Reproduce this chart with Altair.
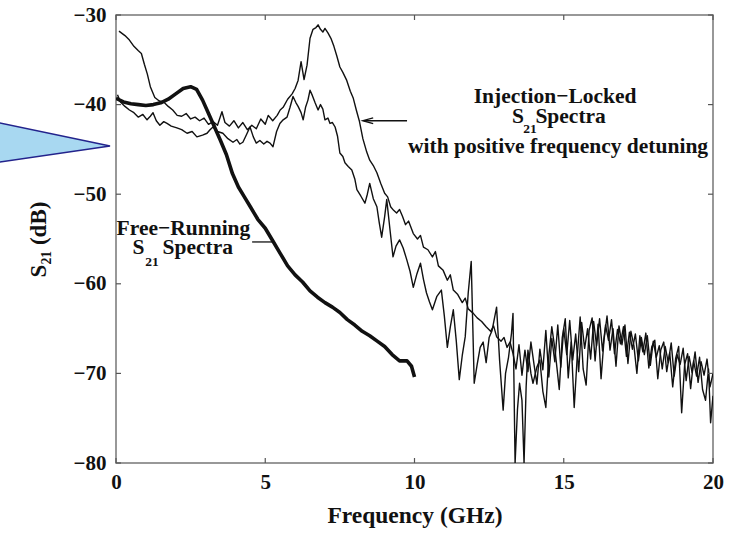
import altair as alt
import pandas as pd

FONT = "Liberation Serif"

# ---------------- data ----------------
x_ticks = [0, 5, 10, 15, 20]
y_ticks = [-80, -70, -60, -50, -40, -30]

free_f = [0.0, 0.25, 0.5, 0.75, 1.0, 1.25, 1.5, 1.75, 2.0, 2.25, 2.5, 2.7, 2.9, 3.1, 3.3, 3.5,
          3.7, 3.9, 4.1, 4.3, 4.5, 4.75, 5.0, 5.25, 5.5, 5.75, 6.0, 6.25, 6.5, 6.75, 7.0,
          7.25, 7.5, 7.75, 8.0, 8.25, 8.5, 8.75, 9.0, 9.25, 9.5, 9.75, 9.9, 10.0]
free_s = [-39.3, -39.7, -39.9, -40.0, -40.1, -40.0, -39.8, -39.4, -38.8, -38.2, -38.0, -38.3,
          -39.5, -41.0, -42.5, -44.0, -45.6, -47.7, -49.2, -50.3, -51.4, -52.8, -53.8, -55.2,
          -56.6, -58.0, -59.0, -59.8, -60.8, -61.5, -62.1, -62.6, -63.2, -64.0, -64.6, -65.3,
          -65.8, -66.4, -67.0, -67.9, -68.6, -68.6, -69.2, -70.4]

lockA_f = [0.10, 0.30, 0.45, 0.60, 0.75, 0.85, 0.95, 1.05, 1.15, 1.30, 1.45, 1.60, 1.75, 1.90,
           2.05, 2.20, 2.35, 2.50, 2.65, 2.80, 2.95, 3.10, 3.25, 3.40, 3.55, 3.65, 3.80, 3.95,
           4.10, 4.25, 4.40, 4.55, 4.70, 4.85, 5.00, 5.10, 5.25, 5.40, 5.50, 5.60, 5.75, 5.90,
           6.00, 6.10, 6.20, 6.30, 6.40, 6.50, 6.60, 6.70, 6.77, 6.85, 6.93, 7.00, 7.10, 7.20,
           7.30, 7.40, 7.50, 7.60, 7.73, 7.85, 7.95, 8.05, 8.15, 8.27, 8.40, 8.50, 8.62, 8.74,
           8.87, 9.00, 9.10, 9.20, 9.30, 9.40, 9.50, 9.60, 9.70, 9.80, 9.96, 10.10, 10.20, 10.30,
           10.45, 10.60, 10.70, 10.80, 10.96, 11.10, 11.20, 11.30, 11.45, 11.60, 11.70, 11.80,
           11.97, 12.10, 12.25, 12.40, 12.55, 12.65, 12.75, 12.90, 13.00, 13.10, 13.20, 13.30,
           13.4, 13.5, 13.6, 13.7, 13.8, 13.9, 14.0, 14.1, 14.2, 14.3, 14.4, 14.5, 14.6, 14.7,
           14.8, 14.9, 15.0, 15.1, 15.2, 15.3, 15.4, 15.5, 15.6, 15.7, 15.8, 15.9, 16.0, 16.1,
           16.2, 16.3, 16.4, 16.5, 16.6, 16.7, 16.8, 16.9, 17.0, 17.1, 17.2, 17.3, 17.4, 17.5,
           17.6, 17.7, 17.8, 17.9, 18.0, 18.1, 18.2, 18.3, 18.4, 18.5, 18.6, 18.7, 18.8, 18.9,
           19.0, 19.1, 19.2, 19.3, 19.4, 19.5, 19.6, 19.7, 19.8, 19.9, 20.0]
lockA_s = [-31.8, -32.3, -32.8, -33.5, -34.0, -34.3, -35.5, -36.6, -38.0, -39.2, -39.6, -39.7,
           -40.2, -40.6, -41.2, -41.3, -41.0, -41.6, -41.4, -41.8, -41.5, -42.2, -41.9, -42.3,
           -40.8, -42.0, -42.4, -41.8, -42.6, -42.0, -42.8, -42.3, -42.7, -41.6, -42.2, -41.2,
           -41.8, -41.2, -40.6, -40.3, -39.4, -38.8, -38.2, -37.3, -35.2, -37.2, -35.6, -32.6,
           -31.6, -31.4, -31.1, -31.6, -31.9, -31.5, -32.0, -32.6, -33.5, -34.6, -35.8, -36.4,
           -37.3, -38.5, -39.3, -40.6, -41.8, -43.8, -45.3, -46.2, -46.8, -47.6, -48.8, -49.9,
           -50.3, -51.4, -51.8, -52.1, -51.7, -52.5, -53.4, -53.0, -54.4, -55.0, -54.6, -55.9,
           -56.2, -57.0, -56.4, -58.0, -58.5, -59.6, -59.0, -60.7, -61.2, -62.1, -61.6, -62.8,
           -63.3, -63.8, -64.2, -64.8, -65.3, -64.7, -65.9, -66.4, -66.0, -67.1, -66.5, -67.8,
           -69.5, -66.8, -70.2, -67.4, -69.8, -66.5, -68.9, -71.2, -67.3, -69.6, -65.2, -70.4,
           -66.1, -68.7, -64.6, -69.3, -65.0, -67.9, -64.1, -68.5, -65.6, -69.8, -64.3, -67.2,
           -65.0, -68.4, -64.2, -66.9, -63.9, -67.5, -64.6, -66.3, -64.0, -67.8, -65.1, -66.7,
           -64.8, -68.1, -65.4, -67.3, -65.6, -68.6, -66.0, -67.9, -65.8, -69.1, -66.4, -68.2,
           -66.9, -69.5, -67.0, -68.8, -66.6, -70.3, -67.9, -69.0, -67.2, -70.8, -68.1, -69.9,
           -67.6, -71.0, -68.7, -70.2, -68.4, -71.5, -70.0]

lockB_f = [0.05, 0.15, 0.30, 0.45, 0.60, 0.75, 0.90, 1.04, 1.15, 1.24, 1.35, 1.47, 1.60, 1.71,
           1.85, 2.04, 2.20, 2.38, 2.55, 2.71, 2.90, 3.05, 3.15, 3.25, 3.40, 3.58, 3.75, 3.92,
           4.05, 4.15, 4.25, 4.35, 4.49, 4.60, 4.70, 4.82, 4.95, 5.06, 5.16, 5.26, 5.38, 5.49,
           5.60, 5.73, 5.83, 5.93, 6.03, 6.10, 6.20, 6.27, 6.35, 6.43, 6.50, 6.58, 6.67, 6.77,
           6.85, 6.93, 7.00, 7.10, 7.17, 7.25, 7.34, 7.42, 7.50, 7.60, 7.67, 7.78, 7.90, 8.00,
           8.07, 8.20, 8.34, 8.42, 8.50, 8.62, 8.74, 8.82, 8.90, 9.00, 9.07, 9.18, 9.28, 9.38,
           9.50, 9.62, 9.74, 9.85, 9.96, 10.08, 10.20, 10.30, 10.40, 10.50, 10.60, 10.75, 10.90,
           11.00, 11.10, 11.20, 11.30, 11.40, 11.50, 11.60, 11.70, 11.80, 11.90, 12.00, 12.10,
           12.20, 12.30, 12.40, 12.50, 12.60, 12.75, 12.85, 12.97, 13.05, 13.15, 13.25, 13.30,
           13.37, 13.45, 13.52, 13.60, 13.67, 13.74, 13.80, 13.90, 13.97, 14.10, 14.20, 14.30,
           14.40, 14.50, 14.60, 14.70, 14.77, 14.85, 14.95, 15.05, 15.15, 15.25, 15.35, 15.45,
           15.55, 15.65, 15.75, 15.85, 15.95, 16.05, 16.15, 16.25, 16.35, 16.45, 16.55, 16.65,
           16.75, 16.85, 16.95, 17.05, 17.15, 17.25, 17.35, 17.45, 17.55, 17.65, 17.75, 17.85,
           17.95, 18.05, 18.15, 18.25, 18.35, 18.45, 18.55, 18.65, 18.75, 18.85, 18.95, 19.05,
           19.15, 19.25, 19.35, 19.45, 19.55, 19.65, 19.75, 19.85, 19.92, 20.00]
lockB_s = [-38.9, -39.7, -40.2, -40.6, -40.9, -41.4, -41.1, -41.7, -41.3, -40.9, -41.8, -42.3,
           -41.9, -42.1, -42.4, -42.6, -42.8, -43.2, -43.0, -43.6, -43.4, -43.2, -42.8, -42.5,
           -43.0, -43.2, -43.8, -44.2, -43.9, -44.4, -44.2, -43.5, -42.5, -43.6, -44.3, -44.0,
           -44.4, -44.1, -44.3, -44.7, -43.0, -42.1, -41.7, -41.4, -40.3, -39.1, -39.8, -40.2,
           -40.9, -41.7, -40.3, -39.5, -38.4, -39.0, -39.8, -40.6, -40.0, -40.5, -41.7, -41.5,
           -42.1, -42.0, -42.5, -43.5, -45.4, -45.8, -46.5, -46.9, -47.3, -48.3, -49.5, -50.2,
           -51.0, -50.0, -48.8, -50.5, -51.4, -53.2, -54.8, -52.5, -50.6, -54.0, -57.0, -55.8,
           -55.1, -56.0, -57.3, -58.6, -60.4, -58.9, -57.7, -59.5, -61.0, -62.0, -62.9, -61.4,
           -60.7, -63.6, -67.1, -64.8, -62.9, -66.4, -70.7, -68.0, -65.9, -61.0, -57.5, -71.1,
           -69.0, -67.1, -66.5, -68.8, -66.0, -65.2, -62.6, -68.5, -74.1, -70.0, -68.2, -65.5,
           -63.3, -80.0, -74.0, -71.1, -73.0, -80.0, -71.5, -67.4, -70.0, -71.1, -69.3, -68.5,
           -72.0, -73.8, -68.0, -64.8, -67.2, -69.3, -71.8, -66.0, -63.9, -70.5, -66.5, -73.8,
           -68.2, -63.7, -69.5, -71.3, -65.2, -63.8, -68.6, -64.5, -70.6, -66.2, -63.6, -67.4,
           -65.0, -69.2, -64.7, -66.8, -64.6, -68.9, -65.3, -66.9, -70.0, -65.8, -67.6, -65.5,
           -69.4, -67.0, -66.3, -70.6, -67.4, -66.5, -69.8, -67.7, -71.5, -68.3, -67.0, -74.4,
           -69.0, -67.8, -71.7, -68.6, -70.3, -68.2, -71.8, -73.0, -69.5, -75.5, -72.5]

# callout triangle (left of the plot, in data units)
tri_f = [-4.22, -0.20]
tri_top = [-41.82, -44.62]
tri_bot = [-46.57, -44.62]

# annotations
center_text = ["Injection\u2212Locked", "with positive frequency detuning", "Free\u2212Running"]
center_f = [14.71, 14.81, 2.26]
center_s = [-39.15, -44.73, -53.88]

big_text = ["S", "Spectra", "S", "Spectra"]
big_f = [13.27, 14.05, 0.55, 1.56]
big_s = [-41.38, -41.38, -55.98, -55.98]

sub_text = ["21", "21"]
sub_f = [13.64, 0.98]
sub_s = [-42.70, -57.60]

arrow_f = [8.30]
arrow_f2 = [9.75]
arrow_s = [-41.8]
head_f = [8.44]

pointer_f = [4.56]
pointer_f2 = [5.29]
pointer_s = [-55.33]

W, H = 597, 448

# ---------------- encodings ----------------
xs = alt.Scale(domain=[0, 20], nice=False, zero=False)
ys = alt.Scale(domain=[-80, -30], nice=False, zero=False)

xax = alt.Axis(title="Frequency (GHz)", values=x_ticks, grid=False, domain=False, ticks=False,
               labelFont=FONT, labelFontSize=21, labelFontWeight="bold", labelColor="#111",
               labelPadding=8, labelFlush=False,
               titleFont=FONT, titleFontSize=23.5, titleFontWeight="bold", titleColor="#111",
               titleY=59, titleBaseline="alphabetic")
yax = alt.Axis(title="S\u2082\u2081 (dB)", values=y_ticks, grid=False, domain=False, ticks=False,
               labelFont=FONT, labelFontSize=21, labelFontWeight="bold", labelColor="#111",
               labelPadding=10, labelFlush=False,
               titleFont=FONT, titleFontSize=23, titleFontWeight="bold", titleColor="#111",
               titleX=-78, titleY=H / 2, titleBaseline="middle", titleAngle=270)

X = alt.X("f:Q", scale=xs, axis=xax)
Y = alt.Y("s:Q", scale=ys, axis=yax)


def curve(fs, ss, width):
    df = pd.DataFrame({"f": fs, "s": ss})
    return alt.Chart(df).mark_line(color="#111", strokeWidth=width, strokeJoin="round",
                                   clip=True).encode(x=X, y=Y)


tri = alt.Chart(pd.DataFrame({"f": tri_f, "s": tri_top, "s2": tri_bot})).mark_area(
    fill="#a8d8f1", stroke="#23238c", strokeWidth=1.5, opacity=1
).encode(x=X, y=Y, y2="s2:Q")

lineA = curve(lockA_f, lockA_s, 1.4)
lineB = curve(lockB_f, lockB_s, 1.4)
lineFree = curve(free_f, free_s, 3.6)

# inward ticks on all four sides
xt = pd.DataFrame({"f": x_ticks})
yt = pd.DataFrame({"s": y_ticks})
tick_style = dict(color="#555", strokeWidth=1.2)
ticks_bottom = alt.Chart(xt).mark_rule(**tick_style).encode(x=X, y=alt.value(H), y2=alt.value(H - 5))
ticks_top = alt.Chart(xt).mark_rule(**tick_style).encode(x=X, y=alt.value(0), y2=alt.value(5))
ticks_left = alt.Chart(yt).mark_rule(**tick_style).encode(y=Y, x=alt.value(0), x2=alt.value(5))
ticks_right = alt.Chart(yt).mark_rule(**tick_style).encode(y=Y, x=alt.value(W), x2=alt.value(W - 5))

txt_c = alt.Chart(pd.DataFrame({"f": center_f, "s": center_s, "t": center_text})).mark_text(
    font=FONT, fontSize=21.5, fontWeight="bold", color="#111", align="center", baseline="middle"
).encode(x=X, y=Y, text="t:N")
txt_b = alt.Chart(pd.DataFrame({"f": big_f, "s": big_s, "t": big_text})).mark_text(
    font=FONT, fontSize=21.5, fontWeight="bold", color="#111", align="left", baseline="middle"
).encode(x=X, y=Y, text="t:N")
txt_s = alt.Chart(pd.DataFrame({"f": sub_f, "s": sub_s, "t": sub_text})).mark_text(
    font=FONT, fontSize=13.5, fontWeight="bold", color="#111", align="left", baseline="middle"
).encode(x=X, y=Y, text="t:N")

arrow = alt.Chart(pd.DataFrame({"f": arrow_f, "f2": arrow_f2, "s": arrow_s})).mark_rule(
    color="#111", strokeWidth=1.3).encode(x=X, x2="f2:Q", y=Y)
head = alt.Chart(pd.DataFrame({"f": head_f, "s": arrow_s})).mark_point(
    shape="M 1 -0.55 L -1 0 L 1 0.55", size=110, filled=False, color="#111", strokeWidth=1.3,
    opacity=1).encode(x=X, y=Y)
pointer = alt.Chart(pd.DataFrame({"f": pointer_f, "f2": pointer_f2, "s": pointer_s})).mark_rule(
    color="#111", strokeWidth=1.3).encode(x=X, x2="f2:Q", y=Y)

chart = alt.layer(
    tri, lineB, lineA, lineFree,
    ticks_bottom, ticks_top, ticks_left, ticks_right,
    txt_c, txt_b, txt_s, arrow, head, pointer,
).properties(
    width=W, height=H,
    autosize=alt.AutoSizeParams(type="none"),
    padding={"left": 116, "top": 15, "right": 20, "bottom": 70},
    background="white",
).configure_view(stroke="#777", strokeWidth=1.5)

chart.save("out.html", embed_options={"renderer": "svg", "actions": False})
